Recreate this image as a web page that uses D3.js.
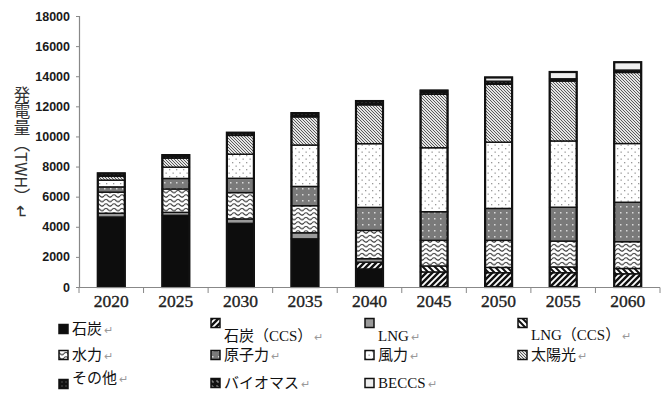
<!DOCTYPE html>
<html><head><meta charset="utf-8">
<script src="https://cdn.jsdelivr.net/npm/d3@7"></script>
<style>
html,body{margin:0;padding:0;background:#fff;}
svg{display:block;}
</style></head>
<body>
<svg id="c" width="670" height="405"></svg>
<script>
const years = ["2020","2025","2030","2035","2040","2045","2050","2055","2060"];
const seriesNames = ["石炭","石炭（CCS）","LNG","LNG（CCS）","水力","原子力","風力","太陽光","その他","バイオマス","BECCS"];
const coal    = [4650,4760,4230,3200,1200,0,0,0,0];
const coalCCS = [0,0,0,0,450,1000,950,950,880];
const lng     = [250,200,290,400,230,0,0,0,0];
const lngCCS  = [0,0,0,0,0,400,350,380,350];
const hydro   = [1400,1550,1750,1800,1880,1700,1800,1720,1780];
const nuclear = [350,700,950,1280,1530,1900,2120,2250,2620];
const wind    = [450,750,1600,2750,4230,4250,4400,4400,3900];
const solar   = [250,600,1250,1870,2580,3550,3850,3980,4720];
const other   = [200,200,180,250,250,250,200,150,160];
const biomass = [0,0,0,0,0,0,0,0,0];
const beccs   = [0,0,0,0,0,0,250,450,520];
const yTicks  = [0,2000,4000,6000,8000,10000,12000,14000,16000,18000];
const yLabel  = "発電量（TWH）↵";

const seriesData = [coal,coalCCS,lng,lngCCS,hydro,nuclear,wind,solar,other,biomass,beccs];
const keys = ["coal","coalCCS","lng","lngCCS","hydro","nuclear","wind","solar","other","biomass","beccs"];
const table = years.map((y,i)=>{const o={year:y}; keys.forEach((k,j)=>o[k]=seriesData[j][i]); return o;});

const svg = d3.select("#c");
const defs = svg.append("defs");
function pat(id,w,h,draw,bg){
  const p = defs.append("pattern").attr("id",id).attr("patternUnits","userSpaceOnUse").attr("width",w).attr("height",h);
  p.append("rect").attr("width",w).attr("height",h).attr("fill",bg);
  draw(p);
}
pat("p-coalCCS",6,6,p=>{
  p.append("path").attr("d","M-1,7 L7,-1 M-4,4 L4,-4 M2,10 L10,2").attr("stroke","#fff").attr("stroke-width",1.8);
},"#111");
pat("p-lngCCS",6,6,p=>{
  p.append("path").attr("d","M-1,-1 L7,7 M-4,2 L2,8 M2,-4 L8,2").attr("stroke","#111").attr("stroke-width",2);
},"#fff");
pat("p-hydro",8,4.5,p=>{
  p.append("path").attr("d","M0,2.5 Q2,0.2 4,2.5 T8,2.5").attr("fill","none").attr("stroke","#222").attr("stroke-width",1.1);
},"#fff");
pat("p-nuclear",6,6,p=>{
  p.append("rect").attr("x",2).attr("y",2).attr("width",1.5).attr("height",1.5).attr("fill","#d8d8d8");
},"#7a7a7a");
pat("p-wind",7,7,p=>{
  p.append("rect").attr("x",1).attr("y",1).attr("width",1.3).attr("height",1.3).attr("fill","#999");
  p.append("rect").attr("x",4.5).attr("y",4.5).attr("width",1.3).attr("height",1.3).attr("fill","#999");
},"#fff");
pat("p-solar",3,3,p=>{
  p.append("path").attr("d","M-1,-1 L4,4 M-1,2 L1,4 M2,-1 L4,1").attr("stroke","#5a5a5a").attr("stroke-width",1);
},"#e4e4e4");
pat("p-other",4,4,p=>{
  p.append("rect").attr("x",1.5).attr("y",1.5).attr("width",1).attr("height",1).attr("fill","#888");
},"#111");
pat("p-biomass",5,5,p=>{
  p.append("path").attr("d","M1,1 L3,1 L3,3").attr("stroke","#bbb").attr("fill","none").attr("stroke-width",0.8);
},"#111");

const fills = {coal:"#0d0d0d",coalCCS:"url(#p-coalCCS)",lng:"#9a9a9a",lngCCS:"url(#p-lngCCS)",
  hydro:"url(#p-hydro)",nuclear:"url(#p-nuclear)",wind:"url(#p-wind)",solar:"url(#p-solar)",
  other:"url(#p-other)",biomass:"url(#p-biomass)",beccs:"#eeeeee"};

const x = d3.scaleBand().domain(years).range([79,660]).padding(0);
const y = d3.scaleLinear().domain([0,18000]).range([287,16]);
const barW = 27;

// axes
const yAxis = svg.append("g").attr("transform","translate(79,0)")
  .call(d3.axisLeft(y).tickValues(yTicks).tickSize(3).tickFormat(d3.format("d")));
yAxis.select(".domain").attr("stroke","#888").attr("stroke-width",1.2);
yAxis.selectAll(".tick line").attr("stroke","#888");
yAxis.selectAll(".tick text").attr("x",-9).attr("font-family","'Liberation Sans',Arial,sans-serif")
  .attr("font-size",12.5).attr("font-weight","bold").attr("fill","#1a1a1a");

const stack = d3.stack().keys(keys);
const layers = stack(table);
const gBars = svg.append("g");
layers.forEach(layer=>{
  gBars.append("g").selectAll("rect").data(layer.filter(d=>d[1]-d[0]>0)).join("rect")
    .attr("x",d=>x(d.data.year)+x.bandwidth()/2-barW/2)
    .attr("width",barW)
    .attr("y",d=>y(d[1]))
    .attr("height",d=>y(d[0])-y(d[1]))
    .attr("fill",fills[layer.key])
    .attr("stroke","#111").attr("stroke-width",1.4);
});
gBars.append("g").selectAll("rect").data(table).join("rect")
  .attr("x",d=>x(d.year)+x.bandwidth()/2-barW/2)
  .attr("width",barW)
  .attr("y",d=>y(d3.sum(keys,k=>d[k])))
  .attr("height",d=>y(0)-y(d3.sum(keys,k=>d[k])))
  .attr("fill","none").attr("stroke","#111").attr("stroke-width",2.2);

// x axis
const xg = svg.append("g");
xg.append("line").attr("x1",79).attr("x2",660).attr("y1",287.5).attr("y2",287.5).attr("stroke","#888").attr("stroke-width",1.2);
xg.selectAll("line.t").data(years.concat(["end"])).join("line").attr("class","t")
  .attr("x1",(d,i)=>79+i*x.step()).attr("x2",(d,i)=>79+i*x.step())
  .attr("y1",287.5).attr("y2",293).attr("stroke","#888");
xg.selectAll("text").data(years).join("text")
  .attr("x",d=>x(d)+x.bandwidth()/2).attr("y",307)
  .attr("text-anchor","middle")
  .attr("font-family","'Liberation Serif','Times New Roman',serif")
  .attr("font-size",17.5).attr("fill","#222").attr("stroke","#222").attr("stroke-width",0.35)
  .text(d=>d);

// y label (vertical)
svg.append("text").attr("x",22).attr("y",86)
  .attr("style","writing-mode:vertical-rl;text-orientation:mixed;")
  .attr("font-family","'Noto Sans CJK JP',sans-serif").attr("font-size",16.5).attr("fill","#333")
  .text(yLabel);

// legend
const colX = [59,211,365,518];
const rowY = [329,355,381];
const iconDy = [[0,-6,-6,-6],[0,0,0,0],[3,2,2]];
const textDy = [[0,7,7,6],[0,0,0,0],[-3,2,2]];
const lg = svg.append("g");
keys.forEach((k,i)=>{
  const r = Math.floor(i/4), c = i%4;
  const cx = colX[c], cy = rowY[r];
  lg.append("rect").attr("x",cx).attr("y",cy-4.5+iconDy[r][c]).attr("width",9).attr("height",9)
    .attr("fill",fills[k]).attr("stroke","#111").attr("stroke-width",1.5);
  const t = lg.append("text").attr("x",cx+13).attr("y",cy+5+textDy[r][c])
    .attr("font-family","'Liberation Serif','Noto Sans CJK JP',serif").attr("font-size",15).attr("fill","#111");
  t.append("tspan").text(seriesNames[i]);
  t.append("tspan").attr("fill","#999").attr("font-size",11).attr("dx",2).text("↵");
});
</script>
</body></html>
